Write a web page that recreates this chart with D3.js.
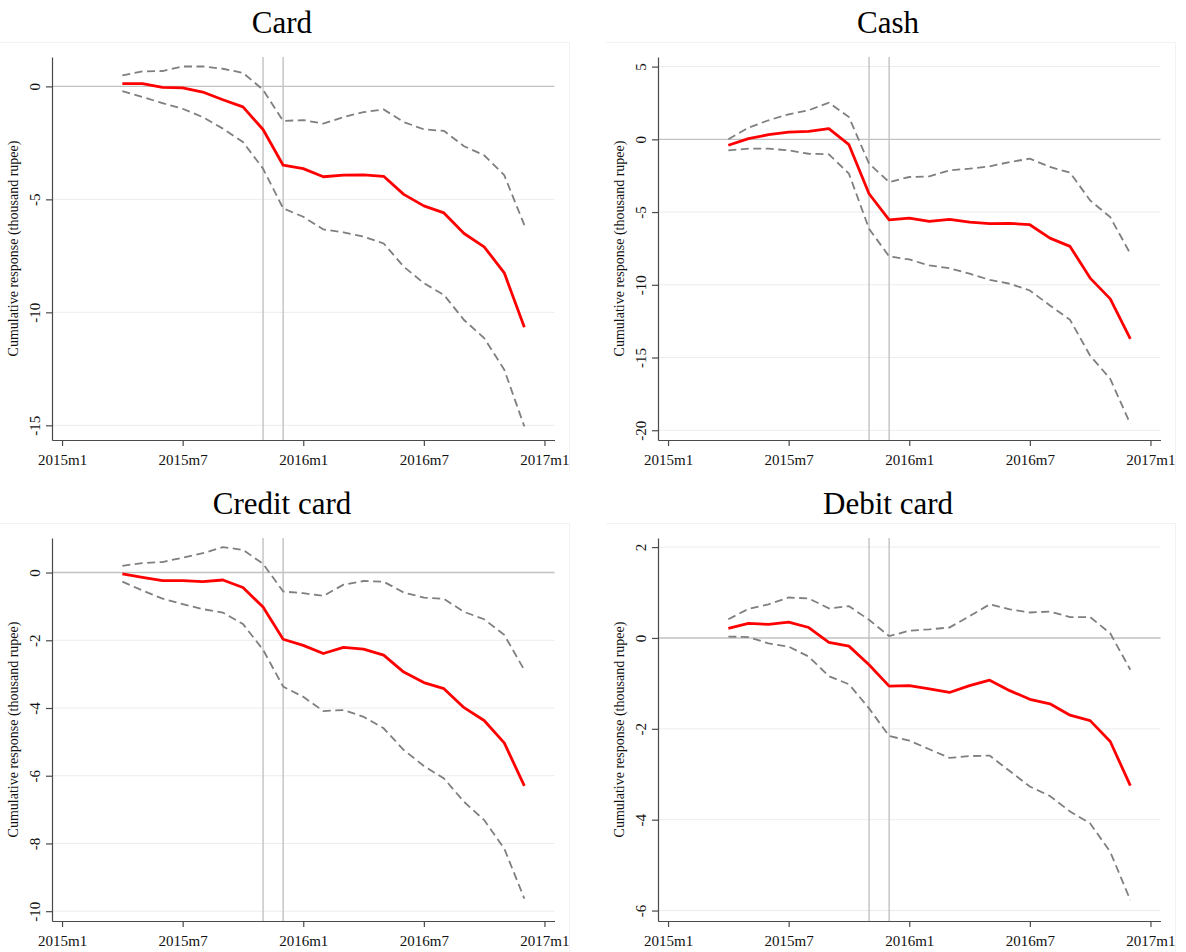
<!DOCTYPE html>
<html>
<head>
<meta charset="utf-8">
<title>Cumulative response by payment type</title>
<script src="https://cdn.jsdelivr.net/npm/d3@7"></script>
<style>
body { margin: 0; background: #ffffff; }
svg { display: block; font-family: "Liberation Serif", "Times New Roman", serif; }
.axis path, .axis line { stroke: #4a4a4a; stroke-width: 1.2px; }
.axis text { fill: #111; font-size: 15px; font-family: "Liberation Serif", serif; }
</style>
</head>
<body>
<div id="chart"></div>
<script>
// Months with estimates
var months = ["2015m4", "2015m5", "2015m6", "2015m7", "2015m8", "2015m9", "2015m10",
    "2015m11", "2015m12", "2016m1", "2016m2", "2016m3", "2016m4", "2016m5", "2016m6",
    "2016m7", "2016m8", "2016m9", "2016m10", "2016m11", "2016m12"];
var xTicks = ["2015m1", "2015m7", "2016m1", "2016m7", "2017m1"];
var eventMonths = ["2015m11", "2015m12"];

// Card
var cardMid = [0.12, 0.12, -0.04, -0.07, -0.25, -0.59, -0.91, -1.91, -3.49, -3.64, -4.0,
    -3.93, -3.92, -3.98, -4.78, -5.29, -5.6, -6.51, -7.1, -8.25, -10.66];
var cardUpper = [0.49, 0.66, 0.68, 0.88, 0.88, 0.78, 0.6, -0.15, -1.53, -1.49, -1.65,
    -1.36, -1.14, -1.02, -1.58, -1.9, -1.97, -2.65, -3.05, -3.93, -6.14];
var cardLower = [-0.21, -0.47, -0.74, -0.99, -1.36, -1.87, -2.46, -3.64, -5.4, -5.77, -6.33,
    -6.46, -6.65, -6.95, -7.98, -8.71, -9.23, -10.34, -11.14, -12.54, -15.05];
var cardTicks = [0, -5, -10, -15];

// Cash
var cashMid = [-0.41, 0.05, 0.32, 0.5, 0.55, 0.73, -0.37, -3.74, -5.53, -5.41, -5.64,
    -5.5, -5.69, -5.8, -5.78, -5.87, -6.79, -7.36, -9.54, -10.97, -13.72];
var cashUpper = [0.0, 0.8, 1.31, 1.72, 2.0, 2.52, 1.53, -1.67, -2.94, -2.59, -2.55,
    -2.13, -2.02, -1.86, -1.56, -1.33, -1.9, -2.29, -4.2, -5.35, -7.87];
var cashLower = [-0.76, -0.64, -0.64, -0.76, -0.99, -1.03, -2.36, -6.15, -8.05, -8.26, -8.67,
    -8.86, -9.24, -9.66, -9.93, -10.39, -11.42, -12.41, -14.87, -16.47, -19.57];
var cashTicks = [5, 0, -5, -10, -15, -20];

// Credit card
var creditMid = [-0.04, -0.14, -0.24, -0.24, -0.27, -0.22, -0.44, -1.02, -1.97, -2.15, -2.39,
    -2.21, -2.26, -2.44, -2.94, -3.25, -3.43, -3.99, -4.37, -5.03, -6.3];
var creditUpper = [0.2, 0.28, 0.31, 0.44, 0.57, 0.75, 0.67, 0.26, -0.56, -0.61, -0.69,
    -0.36, -0.25, -0.27, -0.59, -0.74, -0.78, -1.16, -1.38, -1.84, -2.88];
var creditLower = [-0.27, -0.53, -0.77, -0.93, -1.08, -1.18, -1.52, -2.28, -3.37, -3.67, -4.09,
    -4.06, -4.26, -4.6, -5.24, -5.71, -6.08, -6.77, -7.31, -8.15, -9.63];
var creditTicks = [0, -2, -4, -6, -8, -10];

// Debit card
var debitMid = [0.21, 0.32, 0.3, 0.35, 0.23, -0.1, -0.18, -0.59, -1.06, -1.05, -1.12,
    -1.2, -1.05, -0.93, -1.16, -1.35, -1.45, -1.7, -1.82, -2.28, -3.25];
var debitUpper = [0.41, 0.64, 0.74, 0.89, 0.87, 0.65, 0.7, 0.4, 0.04, 0.16, 0.19,
    0.23, 0.48, 0.74, 0.63, 0.56, 0.58, 0.46, 0.46, 0.1, -0.7];
var debitLower = [0.03, 0.02, -0.12, -0.19, -0.41, -0.84, -1.02, -1.55, -2.16, -2.26, -2.45,
    -2.64, -2.6, -2.59, -2.93, -3.27, -3.48, -3.82, -4.08, -4.71, -5.77];
var debitTicks = [2, 0, -2, -4, -6];

var panels = [
    { title: "Card", mid: cardMid, upper: cardUpper, lower: cardLower, ticks: cardTicks,
      ymin: -15.65, ymax: 1.3, ox: 0, oy: 0 },
    { title: "Cash", mid: cashMid, upper: cashUpper, lower: cashLower, ticks: cashTicks,
      ymin: -20.67, ymax: 5.66, ox: 606, oy: 0 },
    { title: "Credit card", mid: creditMid, upper: creditUpper, lower: creditLower, ticks: creditTicks,
      ymin: -10.29, ymax: 1.02, ox: 0, oy: 481 },
    { title: "Debit card", mid: debitMid, upper: debitUpper, lower: debitLower, ticks: debitTicks,
      ymin: -6.23, ymax: 2.2, ox: 606, oy: 481 }
];

var W = 1186, H = 952;
var plot = { left: 52, right: 554.5, top: 57, bottom: 440 };

// "2015m7" -> months since 2015m1
function monthIndex(s) {
    var p = s.split("m");
    return (+p[0] - 2015) * 12 + (+p[1] - 1);
}

var svg = d3.select("#chart").append("svg")
    .attr("width", W)
    .attr("height", H);

svg.append("rect")
    .attr("width", W)
    .attr("height", H)
    .attr("fill", "#ffffff");

panels.forEach(drawPanel);

function drawPanel(p) {
    var g = svg.append("g")
        .attr("transform", "translate(" + [p.ox, p.oy] + ")");

    // faint frame of the panel image
    g.append("path")
        .attr("d", "M0,42.5H569.5V" + (p.oy ? 471 : 472))
        .attr("fill", "none")
        .attr("stroke", "#f2f2f2");

    var x = d3.scaleLinear()
        .domain([-0.5, 24.5])
        .range([plot.left, plot.right]);
    var y = d3.scaleLinear()
        .domain([p.ymin, p.ymax])
        .range([plot.bottom, plot.top]);

    // gridlines
    g.selectAll(".grid")
        .data(p.ticks.filter(d => d != 0))
      .enter().append("line")
        .attr("class", "grid")
        .attr("x1", plot.left).attr("x2", plot.right)
        .attr("y1", d => y(d)).attr("y2", d => y(d))
        .attr("stroke", "#ececec")
        .attr("stroke-width", 1);

    // zero line
    g.append("line")
        .attr("x1", plot.left).attr("x2", plot.right)
        .attr("y1", y(0)).attr("y2", y(0))
        .attr("stroke", "#c2c2c2")
        .attr("stroke-width", 1.4);

    // event lines
    g.selectAll(".event")
        .data(eventMonths)
      .enter().append("line")
        .attr("class", "event")
        .attr("x1", d => x(monthIndex(d))).attr("x2", d => x(monthIndex(d)))
        .attr("y1", plot.top).attr("y2", plot.bottom)
        .attr("stroke", "#c2c2c2")
        .attr("stroke-width", 1.4);

    var line = d3.line()
        .x((d, i) => x(monthIndex(months[i])))
        .y(d => y(d));

    [p.upper, p.lower].forEach(function(s) {
        g.append("path")
            .datum(s)
            .attr("d", line)
            .attr("fill", "none")
            .attr("stroke", "#7f7f7f")
            .attr("stroke-width", 1.8)
            .attr("stroke-dasharray", "8,4.5");
    });

    g.append("path")
        .datum(p.mid)
        .attr("d", line)
        .attr("fill", "none")
        .attr("stroke", "#ff0000")
        .attr("stroke-width", 2.8)
        .attr("stroke-linejoin", "round");

    // x-axis
    var xAxis = d3.axisBottom(x)
        .tickValues(xTicks.map(monthIndex))
        .tickFormat((d, i) => xTicks[i])
        .tickSize(6)
        .tickSizeOuter(0)
        .tickPadding(8);
    g.append("g")
        .attr("class", "x axis")
        .attr("transform", "translate(0," + plot.bottom + ")")
        .call(xAxis);

    // y-axis, labels turned vertical
    var yAxis = d3.axisLeft(y)
        .tickValues(p.ticks)
        .tickFormat(d => String(d))
        .tickSize(6)
        .tickSizeOuter(0);
    var ya = g.append("g")
        .attr("class", "y axis")
        .attr("transform", "translate(" + plot.left + ",0)")
        .call(yAxis);
    ya.selectAll("text")
        .attr("x", null)
        .attr("dy", null)
        .attr("transform", "translate(-12.5,0) rotate(-90)")
        .style("text-anchor", "middle");

    g.append("text")
        .attr("transform", "translate(18," + ((plot.top + plot.bottom) / 2) + ") rotate(-90)")
        .attr("text-anchor", "middle")
        .style("font-size", "14px")
        .attr("fill", "#111")
        .text("Cumulative response (thousand rupee)");

    // title
    g.append("text")
        .attr("x", 282)
        .attr("y", 33)
        .attr("text-anchor", "middle")
        .style("font-size", "31px")
        .attr("fill", "#000")
        .text(p.title);
}
</script>
</body>
</html>
